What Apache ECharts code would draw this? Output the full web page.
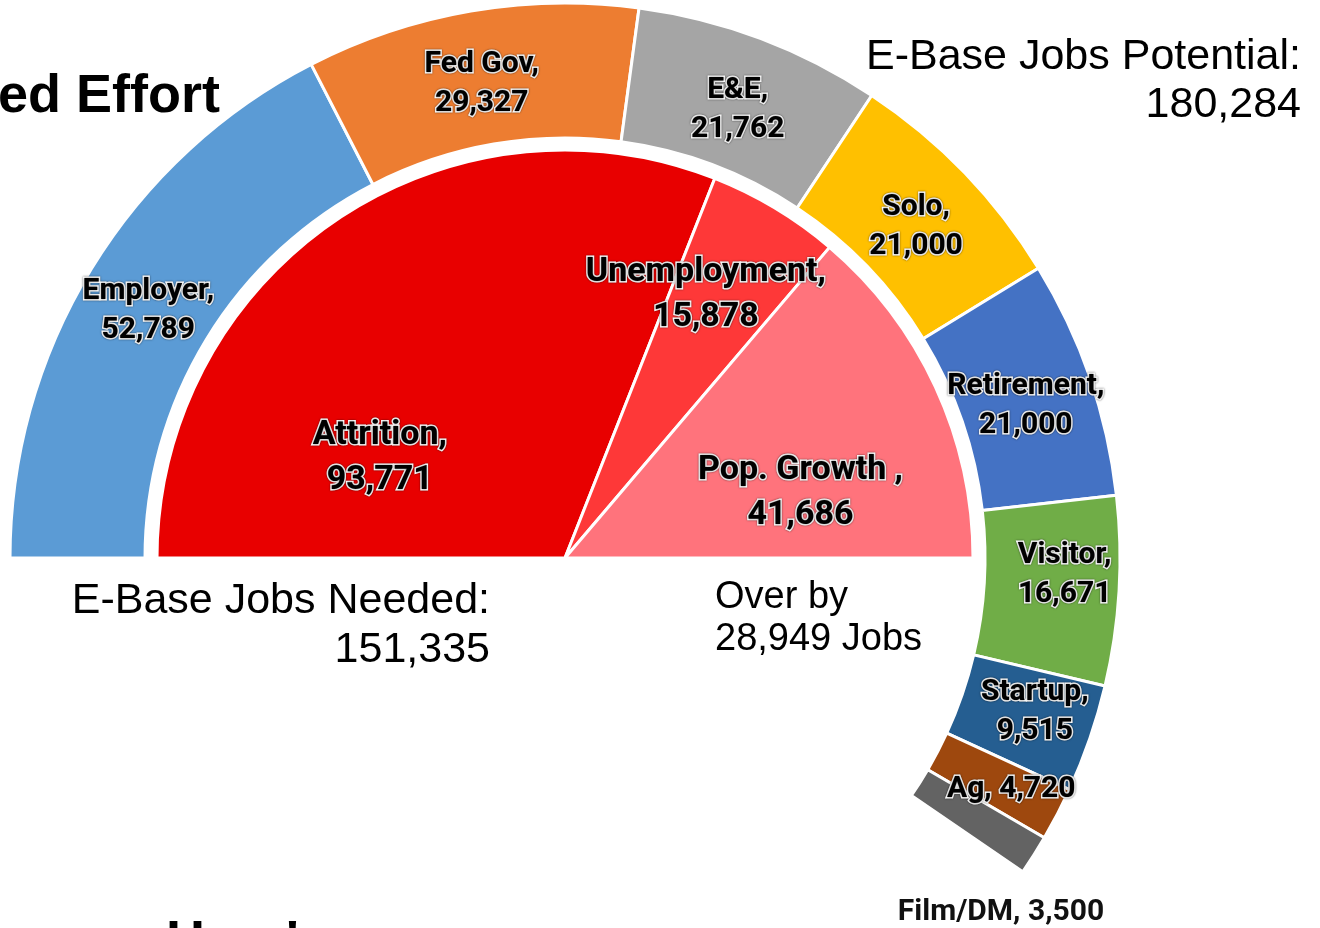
<!DOCTYPE html>
<html>
<head>
<meta charset="utf-8">
<script src="https://cdn.jsdelivr.net/npm/echarts@6/dist/echarts.min.js"></script>
<style>
html,body{margin:0;padding:0;background:#fff;}
#chart{width:1320px;height:928px;}
</style>
</head>
<body>
<div id="chart"></div>
<script>
// ---- data ----
const neededCategories = ['Attrition', 'Unemployment', 'Pop. Growth '];
const neededValues = [93771, 15878, 41686];
const potentialCategories = ['Employer', 'Fed Gov', 'E&E', 'Solo', 'Retirement', 'Visitor', 'Startup', 'Ag', 'Film/DM'];
const potentialValues = [52789, 29327, 21762, 21000, 21000, 16671, 9515, 4720, 3500];
const potentialTitle = 'E-Base Jobs Potential:';
const neededTitle = 'E-Base Jobs Needed:';
const overLabel = ['Over by', 'Jobs'];
const headerText = 'ed Effort';
const footerText = "Here's";

// ---- styles ----
const neededColors = ['#E80000', '#FE3838', '#FF737C'];
const potentialColors = ['#5B9BD5', '#ED7D31', '#A5A5A5', '#FFC000', '#4472C4', '#70AD47', '#255E91', '#9E480E', '#636363'];
const CX = 565, CY = 558;
const innerR = 408, ringR = [420, 555];
// inner label placement (angle deg, radius px, extra dy)
const innerLabelPolar = [[150.9, 212, 3], [62, 300, 2], [16, 245, 3]];
// outer label offsets from default inside position
const outerLabelOffset = [[2,9],[0,9],[0,11],[-2,9],[-3,8],[10,-12],[6,-6],[11,5],[0,0]];

const fmt = v => v.toLocaleString('en-US');
const neededTotal = neededValues.reduce((a,b)=>a+b,0);
const potentialTotal = potentialValues.reduce((a,b)=>a+b,0);
const over = potentialTotal - neededTotal;
const ringEndAngle = 180 - 180 * potentialTotal / neededTotal;

const labelFont = 'Roboto, "DejaVu Sans", sans-serif';
const baseLabel = {
  show: true,
  position: 'inside',
  color: '#000',
  fontFamily: labelFont,
  fontWeight: 'bold',
  textBorderColor: '#fff',
  textBorderWidth: 3,
  textShadowColor: 'rgba(0,0,0,0.6)',
  textShadowBlur: 2,
  align: 'center',
  verticalAlign: 'middle'
};

const chart = echarts.init(document.getElementById('chart'), null, {renderer: 'canvas'});

const option = {
  animation: false,
  backgroundColor: '#fff',
  series: [
    {
      type: 'pie',
      center: [CX, CY],
      radius: [0, innerR],
      startAngle: 180,
      endAngle: 0,
      clockwise: true,
      avoidLabelOverlap: false,
      silent: true,
      itemStyle: {borderColor: '#fff', borderWidth: 3},
      label: Object.assign({}, baseLabel, {
        fontSize: 34,
        lineHeight: 45,
        formatter: p => p.name + ',\n' + fmt(p.value)
      }),
      labelLine: {show: false},
      labelLayout: p => {
        const pl = innerLabelPolar[p.dataIndex];
        const a = pl[0] * Math.PI / 180;
        return {x: CX + pl[1] * Math.cos(a), y: CY - pl[1] * Math.sin(a) + pl[2], align: 'center', verticalAlign: 'middle'};
      },
      data: neededCategories.map((n, i) => ({name: n, value: neededValues[i], itemStyle: {color: neededColors[i]}}))
    },
    {
      type: 'pie',
      center: [CX, CY],
      radius: ringR,
      startAngle: 180,
      endAngle: ringEndAngle,
      clockwise: true,
      avoidLabelOverlap: false,
      silent: true,
      itemStyle: {borderColor: '#fff', borderWidth: 3},
      label: Object.assign({}, baseLabel, {
        fontSize: 30,
        lineHeight: 39,
        formatter: p => (p.value < 5000 ? p.name + ', ' + fmt(p.value) : p.name + ',\n' + fmt(p.value))
      }),
      labelLine: {show: false},
      labelLayout: p => {
        if (p.dataIndex === potentialValues.length - 1) {
          return {x: 1001, y: 912, align: 'center', verticalAlign: 'middle'};
        }
        const o = outerLabelOffset[p.dataIndex];
        return {dx: o[0], dy: o[1]};
      },
      data: potentialCategories.map((n, i) => {
        const d = {name: n, value: potentialValues[i], itemStyle: {color: potentialColors[i]}};
        if (i === potentialCategories.length - 1) {
          d.label = {position: 'outside', textBorderWidth: 0, textShadowBlur: 0, fontSize: 30, color: '#111'};
        }
        return d;
      })
    }
  ],
  graphic: [
    {type: 'text', x: 220, y: 97, style: {text: headerText, fill: '#000', font: 'bold 54px "Liberation Sans", Arial, sans-serif', textAlign: 'right', textVerticalAlign: 'middle'}},
    {type: 'text', x: 1301, y: 57, style: {text: potentialTitle, fill: '#000', font: '43px "Liberation Sans", Arial, sans-serif', textAlign: 'right', textVerticalAlign: 'middle'}},
    {type: 'text', x: 1301, y: 105, style: {text: fmt(potentialTotal), fill: '#000', font: '43px "Liberation Sans", Arial, sans-serif', textAlign: 'right', textVerticalAlign: 'middle'}},
    {type: 'text', x: 490, y: 601, style: {text: neededTitle, fill: '#000', font: '43px "Liberation Sans", Arial, sans-serif', textAlign: 'right', textVerticalAlign: 'middle'}},
    {type: 'text', x: 490, y: 650, style: {text: fmt(neededTotal), fill: '#000', font: '43px "Liberation Sans", Arial, sans-serif', textAlign: 'right', textVerticalAlign: 'middle'}},
    {type: 'text', x: 715, y: 598, style: {text: overLabel[0], fill: '#000', font: '38px "Liberation Sans", Arial, sans-serif', textAlign: 'left', textVerticalAlign: 'middle'}},
    {type: 'text', x: 715, y: 640, style: {text: fmt(over) + ' ' + overLabel[1], fill: '#000', font: '38px "Liberation Sans", Arial, sans-serif', textAlign: 'left', textVerticalAlign: 'middle'}},
    {type: 'text', x: 166, y: 943, style: {text: footerText, fill: '#000', font: 'bold 54px "Liberation Sans", Arial, sans-serif', textAlign: 'left', textVerticalAlign: 'middle'}}
  ]
};
chart.setOption(option);
</script>
</body>
</html>
